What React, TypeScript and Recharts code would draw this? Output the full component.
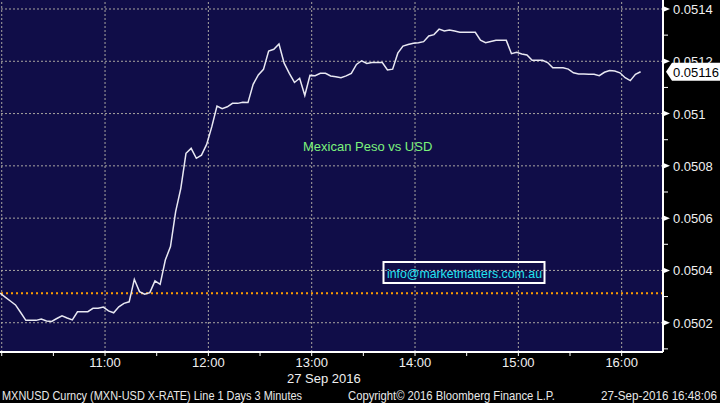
import React from "react";
import { LineChart, Line, XAxis, YAxis, CartesianGrid, ReferenceLine } from "recharts";

// MXNUSD, 3 minute bars from 09:59 on 27 Sep 2016
const START_MIN = 599;
const STEP_MIN = 3;
const rate = [
  0.050313, 0.050298, 0.050283, 0.050268, 0.050239, 0.050209, 0.050209, 0.050209, 0.050214, 0.050207,
  0.050205, 0.050216, 0.050226, 0.050218, 0.050211, 0.050242, 0.050242, 0.050242, 0.050255, 0.050255,
  0.05026, 0.050245, 0.050238, 0.050261, 0.050274, 0.05028, 0.050366, 0.050319, 0.050309, 0.050315,
  0.05036, 0.050347, 0.05044, 0.050491, 0.050625, 0.050714, 0.050848, 0.050867, 0.050829, 0.050841,
  0.050882, 0.05095, 0.051029, 0.051019, 0.051026, 0.051039, 0.051039, 0.051043, 0.051042, 0.051112,
  0.051148, 0.051169, 0.051239, 0.051246, 0.051266, 0.051193, 0.051154, 0.051119, 0.051135, 0.051069,
  0.051146, 0.051145, 0.051154, 0.051154, 0.051144, 0.051141, 0.051137, 0.051144, 0.051154, 0.051188,
  0.051202, 0.051192, 0.051195, 0.051195, 0.051195, 0.051167, 0.05117, 0.051231, 0.051258, 0.051264,
  0.051269, 0.051271, 0.051275, 0.051297, 0.051302, 0.051323, 0.051316, 0.05132, 0.051316, 0.051311,
  0.051311, 0.051311, 0.051311, 0.051281, 0.051271, 0.051276, 0.05128, 0.05128, 0.05128, 0.051229,
  0.051234, 0.051228, 0.051224, 0.051204, 0.051204, 0.051204, 0.051195, 0.051175, 0.051175, 0.051175,
  0.05117, 0.051156, 0.051151, 0.051151, 0.05115, 0.05115, 0.051145, 0.051158, 0.051165, 0.051163,
  0.051156, 0.051137, 0.051126, 0.05115, 0.05116,
];
const prevClose = 0.050313;
const lastPrice = 0.05116;

const timeTicks = [600, 630, 660, 690, 720, 750, 780, 810, 840, 870, 900, 930, 960];
const hourGrid = [600, 660, 720, 780, 840, 900, 960];
const priceTicks = [
  0.0501, 0.0502, 0.0503, 0.0504, 0.0505, 0.0506, 0.0507, 0.0508, 0.0509, 0.051, 0.0511, 0.0512,
  0.0513, 0.0514,
];
const priceGrid = [0.0502, 0.0504, 0.0506, 0.0508, 0.051, 0.0512, 0.0514];

const data = rate.map((v, i) => ({ t: START_MIN + i * STEP_MIN, v }));

const FONT = "'Liberation Sans', Arial, sans-serif";
const BG = "#100d48";
const GRID = "#a9a6a0";

const hhmm = (m: number) =>
  `${Math.floor(m / 60)}:${String(m % 60).padStart(2, "0")}`;

function TimeTick(props: any) {
  const { x, y, payload } = props;
  const m = payload.value;
  return (
    <g>
      <line x1={x} x2={x} y1={y} y2={y + 4} stroke="#fff" strokeWidth={1} />
      {m % 60 === 0 && m > 600 && (
        <text x={x} y={y + 15} textAnchor="middle" fill="#f0f0f0" fontSize={13} fontFamily={FONT}>
          {hhmm(m)}
        </text>
      )}
    </g>
  );
}

function PriceTick(props: any) {
  const { x, y, payload } = props;
  const v = payload.value;
  if (v === lastPrice) {
    return (
      <g>
        <polygon
          points={`${x + 3},${y} ${x + 9},${y - 9} ${x + 60},${y - 9} ${x + 60},${y + 9} ${x + 9},${y + 9}`}
          fill="#fff"
        />
        <text x={x + 10} y={y + 5} fill="#000" fontSize={13} fontFamily={FONT}>
          {String(v)}
        </text>
      </g>
    );
  }
  const major = Math.round(v * 10000) % 2 === 0;
  if (!major) {
    return <line x1={x} x2={x + 5} y1={y} y2={y} stroke="#fff" strokeWidth={1} />;
  }
  return (
    <g>
      <polygon points={`${x + 1},${y - 2.5} ${x + 7},${y} ${x + 1},${y + 2.5}`} fill="#fff" />
      <text x={x + 10} y={y + 5} fill="#f0f0f0" fontSize={13} fontFamily={FONT}>
        {String(v)}
      </text>
    </g>
  );
}

export default function App() {
  return (
    <div style={{ position: "absolute", left: 0, top: 0, width: 720, height: 403, background: "#000" }}>
      <LineChart width={720} height={403} data={data} margin={{ top: 0, right: 0, left: 0, bottom: 0 }}>
        <CartesianGrid fill={BG} horizontal={false} vertical={false} />
        {hourGrid.map((m) => (
          <ReferenceLine key={`h${m}`} x={m} stroke={GRID} strokeDasharray="2 2" />
        ))}
        {priceGrid.map((p) => (
          <ReferenceLine key={`p${p}`} y={p} stroke={GRID} strokeDasharray="2 2" />
        ))}
        <ReferenceLine y={prevClose} stroke="#ff9d00" strokeWidth={2} strokeDasharray="2 3" />
        <XAxis
          dataKey="t"
          type="number"
          domain={[599, 984]}
          ticks={timeTicks}
          interval={0}
          height={51}
          tickSize={0}
          tickMargin={0}
          tickLine={false}
          axisLine={{ stroke: "#fff", strokeWidth: 2 }}
          tick={<TimeTick />}
        />
        <YAxis
          orientation="right"
          type="number"
          domain={[0.050088, 0.0514344]}
          ticks={[...priceTicks, lastPrice]}
          interval={0}
          width={57}
          tickSize={0}
          tickMargin={0}
          tickLine={false}
          axisLine={{ stroke: "#fff", strokeWidth: 2 }}
          tick={<PriceTick />}
        />
        <Line
          type="linear"
          dataKey="v"
          stroke="#e8e8f2"
          strokeWidth={1.5}
          dot={false}
          activeDot={false}
          isAnimationActive={false}
        />
      </LineChart>
      <svg
        width={720}
        height={403}
        style={{ position: "absolute", left: 0, top: 0, pointerEvents: "none" }}
        fontFamily={FONT}
      >
        <text x={303} y={150.5} fill="#7cf27c" fontSize={13}>
          Mexican Peso vs USD
        </text>
        <rect x={383.5} y={262} width={161} height={21} fill="none" stroke="#fff" strokeWidth={2} />
        <text x={387} y={277.5} fill="#22e2f0" fontSize={13} textLength={155} lengthAdjust="spacingAndGlyphs">
          info@marketmatters.com.au
        </text>
        <text x={287} y={383} fill="#f0f0f0" fontSize={13}>
          27 Sep 2016
        </text>
        <text x={2} y={399.5} fill="#e8e8e8" fontSize={13} textLength={300} lengthAdjust="spacingAndGlyphs">
          MXNUSD Curncy (MXN-USD X-RATE) Line 1 Days 3 Minutes
        </text>
        <text x={348} y={399.5} fill="#e8e8e8" fontSize={13} textLength={207} lengthAdjust="spacingAndGlyphs">
          Copyright© 2016 Bloomberg Finance L.P.
        </text>
        <text x={601} y={399.5} fill="#e8e8e8" fontSize={13} textLength={116} lengthAdjust="spacingAndGlyphs">
          27-Sep-2016 16:48:06
        </text>
      </svg>
    </div>
  );
}
